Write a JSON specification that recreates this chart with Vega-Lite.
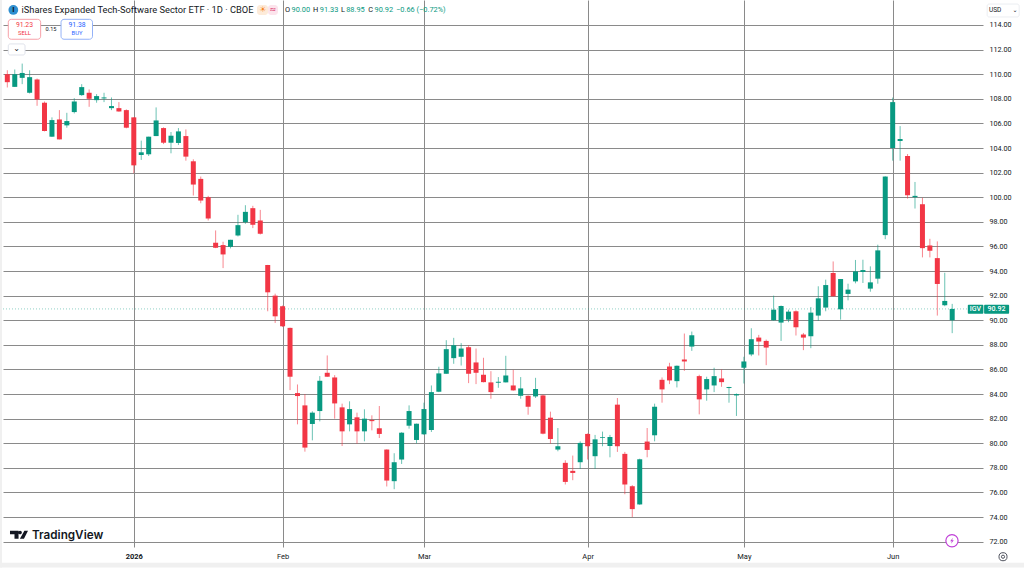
{"$schema":"https://vega.github.io/schema/vega-lite/v6.json","width":980,"height":547,"autosize":{"type":"none"},"padding":{"left":3,"top":0,"right":41,"bottom":21},"background":"#ffffff","config":{"view":{"stroke":null},"font":"Roboto"},
"datasets":{"candles":[
{"bar":0,"date":"2025-12-08","open":110.0,"high":110.32,"low":108.92,"close":109.35,"dir":"down"},
{"bar":1,"date":"2025-12-09","open":108.97,"high":110.38,"low":108.97,"close":110.0,"dir":"up"},
{"bar":2,"date":"2025-12-10","open":109.7,"high":110.86,"low":109.19,"close":110.1,"dir":"up"},
{"bar":3,"date":"2025-12-11","open":108.49,"high":110.32,"low":108.43,"close":109.76,"dir":"up"},
{"bar":4,"date":"2025-12-12","open":109.57,"high":109.65,"low":107.43,"close":107.95,"dir":"down"},
{"bar":5,"date":"2025-12-15","open":107.68,"high":107.78,"low":105.35,"close":105.38,"dir":"down"},
{"bar":6,"date":"2025-12-16","open":104.92,"high":106.49,"low":104.9,"close":106.27,"dir":"up"},
{"bar":7,"date":"2025-12-17","open":106.32,"high":107.08,"low":104.7,"close":104.7,"dir":"down"},
{"bar":8,"date":"2025-12-18","open":105.84,"high":106.86,"low":105.65,"close":106.19,"dir":"up"},
{"bar":9,"date":"2025-12-19","open":106.92,"high":108.05,"low":106.81,"close":107.78,"dir":"up"},
{"bar":10,"date":"2025-12-22","open":108.3,"high":109.19,"low":108.24,"close":108.95,"dir":"up"},
{"bar":11,"date":"2025-12-23","open":108.49,"high":108.76,"low":107.35,"close":108.0,"dir":"down"},
{"bar":12,"date":"2025-12-24","open":107.89,"high":108.38,"low":107.68,"close":108.22,"dir":"up"},
{"bar":13,"date":"2025-12-26","open":108.03,"high":108.49,"low":107.73,"close":108.11,"dir":"up"},
{"bar":14,"date":"2025-12-29","open":107.24,"high":108.11,"low":107.08,"close":107.41,"dir":"up"},
{"bar":15,"date":"2025-12-30","open":107.24,"high":107.73,"low":106.95,"close":106.97,"dir":"down"},
{"bar":16,"date":"2025-12-31","open":107.08,"high":107.14,"low":105.6,"close":105.65,"dir":"down"},
{"bar":17,"date":"2026-01-02","open":106.49,"high":106.49,"low":101.95,"close":102.59,"dir":"down"},
{"bar":18,"date":"2026-01-05","open":103.43,"high":104.6,"low":103.03,"close":103.65,"dir":"up"},
{"bar":19,"date":"2026-01-06","open":103.49,"high":104.92,"low":103.35,"close":104.92,"dir":"up"},
{"bar":20,"date":"2026-01-07","open":104.97,"high":107.3,"low":104.97,"close":106.24,"dir":"up"},
{"bar":21,"date":"2026-01-08","open":105.62,"high":105.68,"low":104.32,"close":104.43,"dir":"down"},
{"bar":22,"date":"2026-01-09","open":104.43,"high":105.3,"low":103.57,"close":105.0,"dir":"up"},
{"bar":23,"date":"2026-01-12","open":104.41,"high":105.62,"low":104.24,"close":105.35,"dir":"up"},
{"bar":24,"date":"2026-01-13","open":104.97,"high":105.51,"low":102.97,"close":103.3,"dir":"down"},
{"bar":25,"date":"2026-01-14","open":102.92,"high":103.08,"low":100.14,"close":101.03,"dir":"down"},
{"bar":26,"date":"2026-01-15","open":101.49,"high":101.68,"low":99.51,"close":99.73,"dir":"down"},
{"bar":27,"date":"2026-01-16","open":100.0,"high":100.11,"low":98.11,"close":98.27,"dir":"down"},
{"bar":28,"date":"2026-01-20","open":96.3,"high":97.3,"low":95.86,"close":95.89,"dir":"down"},
{"bar":29,"date":"2026-01-21","open":96.11,"high":96.38,"low":94.24,"close":95.35,"dir":"down"},
{"bar":30,"date":"2026-01-22","open":95.97,"high":96.54,"low":95.84,"close":96.54,"dir":"up"},
{"bar":31,"date":"2026-01-23","open":96.89,"high":98.57,"low":96.81,"close":97.73,"dir":"up"},
{"bar":32,"date":"2026-01-26","open":97.97,"high":99.35,"low":97.84,"close":98.81,"dir":"up"},
{"bar":33,"date":"2026-01-27","open":99.11,"high":99.3,"low":97.49,"close":97.76,"dir":"down"},
{"bar":34,"date":"2026-01-28","open":98.11,"high":98.97,"low":96.97,"close":97.03,"dir":"down"},
{"bar":35,"date":"2026-01-29","open":94.49,"high":94.5,"low":90.73,"close":92.27,"dir":"down"},
{"bar":36,"date":"2026-01-30","open":92.0,"high":92.16,"low":89.78,"close":90.32,"dir":"down"},
{"bar":37,"date":"2026-02-02","open":91.14,"high":91.2,"low":89.45,"close":89.51,"dir":"down"},
{"bar":38,"date":"2026-02-03","open":89.38,"high":89.4,"low":84.32,"close":85.41,"dir":"down"},
{"bar":39,"date":"2026-02-04","open":84.08,"high":84.78,"low":81.54,"close":83.84,"dir":"down"},
{"bar":40,"date":"2026-02-05","open":83.08,"high":84.0,"low":79.32,"close":79.65,"dir":"down"},
{"bar":41,"date":"2026-02-06","open":81.57,"high":82.6,"low":80.24,"close":82.49,"dir":"up"},
{"bar":42,"date":"2026-02-09","open":82.62,"high":85.46,"low":81.78,"close":85.08,"dir":"up"},
{"bar":43,"date":"2026-02-10","open":85.73,"high":87.14,"low":85.4,"close":85.41,"dir":"down"},
{"bar":44,"date":"2026-02-11","open":85.35,"high":85.54,"low":82.0,"close":83.24,"dir":"down"},
{"bar":45,"date":"2026-02-12","open":82.92,"high":83.22,"low":79.78,"close":80.97,"dir":"down"},
{"bar":46,"date":"2026-02-13","open":81.54,"high":83.41,"low":80.97,"close":82.78,"dir":"up"},
{"bar":47,"date":"2026-02-17","open":82.11,"high":82.49,"low":79.97,"close":80.97,"dir":"down"},
{"bar":48,"date":"2026-02-18","open":80.97,"high":82.76,"low":80.16,"close":82.0,"dir":"up"},
{"bar":49,"date":"2026-02-19","open":81.89,"high":82.27,"low":81.05,"close":81.8,"dir":"down"},
{"bar":50,"date":"2026-02-20","open":81.22,"high":83.03,"low":80.43,"close":80.76,"dir":"down"},
{"bar":51,"date":"2026-02-23","open":79.49,"high":79.5,"low":76.49,"close":76.97,"dir":"down"},
{"bar":52,"date":"2026-02-24","open":76.92,"high":79.19,"low":76.27,"close":78.46,"dir":"up"},
{"bar":53,"date":"2026-02-25","open":78.68,"high":80.9,"low":78.32,"close":80.86,"dir":"up"},
{"bar":54,"date":"2026-02-26","open":81.43,"high":83.08,"low":81.19,"close":82.62,"dir":"up"},
{"bar":55,"date":"2026-02-27","open":80.27,"high":81.6,"low":80.0,"close":81.59,"dir":"up"},
{"bar":56,"date":"2026-03-02","open":80.73,"high":83.3,"low":80.68,"close":82.78,"dir":"up"},
{"bar":57,"date":"2026-03-03","open":81.08,"high":84.7,"low":80.92,"close":84.16,"dir":"up"},
{"bar":58,"date":"2026-03-04","open":84.19,"high":86.22,"low":84.16,"close":85.68,"dir":"up"},
{"bar":59,"date":"2026-03-05","open":85.65,"high":88.38,"low":85.65,"close":87.65,"dir":"up"},
{"bar":60,"date":"2026-03-06","open":86.92,"high":88.57,"low":86.46,"close":87.97,"dir":"up"},
{"bar":61,"date":"2026-03-09","open":87.03,"high":88.14,"low":86.32,"close":87.7,"dir":"up"},
{"bar":62,"date":"2026-03-10","open":87.81,"high":87.97,"low":84.89,"close":85.65,"dir":"down"},
{"bar":63,"date":"2026-03-11","open":86.57,"high":87.7,"low":84.81,"close":85.73,"dir":"down"},
{"bar":64,"date":"2026-03-12","open":85.57,"high":86.95,"low":84.95,"close":84.97,"dir":"down"},
{"bar":65,"date":"2026-03-13","open":84.95,"high":85.86,"low":83.62,"close":84.16,"dir":"down"},
{"bar":66,"date":"2026-03-16","open":84.92,"high":85.38,"low":84.51,"close":85.0,"dir":"up"},
{"bar":67,"date":"2026-03-17","open":84.95,"high":87.11,"low":84.95,"close":85.51,"dir":"up"},
{"bar":68,"date":"2026-03-18","open":84.7,"high":85.97,"low":84.27,"close":84.3,"dir":"down"},
{"bar":69,"date":"2026-03-19","open":83.86,"high":85.38,"low":83.62,"close":84.46,"dir":"up"},
{"bar":70,"date":"2026-03-20","open":83.86,"high":83.89,"low":82.32,"close":82.97,"dir":"down"},
{"bar":71,"date":"2026-03-23","open":83.81,"high":85.32,"low":83.68,"close":84.41,"dir":"up"},
{"bar":72,"date":"2026-03-24","open":83.89,"high":83.95,"low":80.73,"close":80.78,"dir":"down"},
{"bar":73,"date":"2026-03-25","open":82.08,"high":82.57,"low":79.97,"close":80.35,"dir":"down"},
{"bar":74,"date":"2026-03-26","open":79.49,"high":81.24,"low":79.35,"close":79.76,"dir":"up"},
{"bar":75,"date":"2026-03-27","open":78.41,"high":78.62,"low":76.65,"close":76.86,"dir":"down"},
{"bar":76,"date":"2026-03-30","open":77.76,"high":79.0,"low":77.0,"close":77.59,"dir":"down"},
{"bar":77,"date":"2026-03-31","open":78.46,"high":80.16,"low":77.92,"close":80.03,"dir":"up"},
{"bar":78,"date":"2026-04-01","open":80.76,"high":80.8,"low":78.68,"close":79.76,"dir":"down"},
{"bar":79,"date":"2026-04-02","open":78.95,"high":80.68,"low":77.92,"close":80.32,"dir":"up"},
{"bar":80,"date":"2026-04-06","open":80.43,"high":80.95,"low":79.76,"close":80.49,"dir":"up"},
{"bar":81,"date":"2026-04-07","open":79.78,"high":80.68,"low":78.86,"close":80.51,"dir":"up"},
{"bar":82,"date":"2026-04-08","open":83.14,"high":83.68,"low":79.3,"close":79.76,"dir":"down"},
{"bar":83,"date":"2026-04-09","open":79.14,"high":79.3,"low":75.86,"close":76.65,"dir":"down"},
{"bar":84,"date":"2026-04-10","open":76.51,"high":76.6,"low":74.0,"close":74.65,"dir":"down"},
{"bar":85,"date":"2026-04-13","open":75.03,"high":78.75,"low":75.0,"close":78.7,"dir":"up"},
{"bar":86,"date":"2026-04-14","open":80.14,"high":81.24,"low":78.86,"close":79.46,"dir":"down"},
{"bar":87,"date":"2026-04-15","open":80.65,"high":83.22,"low":80.16,"close":82.97,"dir":"up"},
{"bar":88,"date":"2026-04-16","open":85.16,"high":85.35,"low":83.3,"close":84.38,"dir":"down"},
{"bar":89,"date":"2026-04-17","open":86.24,"high":86.54,"low":84.81,"close":85.11,"dir":"down"},
{"bar":90,"date":"2026-04-20","open":85.05,"high":86.32,"low":84.54,"close":86.3,"dir":"up"},
{"bar":91,"date":"2026-04-21","open":86.81,"high":88.92,"low":85.89,"close":86.65,"dir":"down"},
{"bar":92,"date":"2026-04-22","open":87.86,"high":89.08,"low":87.51,"close":88.78,"dir":"up"},
{"bar":93,"date":"2026-04-23","open":85.46,"high":85.57,"low":82.35,"close":83.57,"dir":"down"},
{"bar":94,"date":"2026-04-24","open":84.38,"high":85.41,"low":83.46,"close":85.22,"dir":"up"},
{"bar":95,"date":"2026-04-27","open":84.7,"high":86.14,"low":84.16,"close":85.46,"dir":"up"},
{"bar":96,"date":"2026-04-28","open":85.27,"high":86.0,"low":84.59,"close":84.97,"dir":"down"},
{"bar":97,"date":"2026-04-29","open":84.49,"high":84.59,"low":83.3,"close":84.57,"dir":"up"},
{"bar":98,"date":"2026-04-30","open":83.89,"high":84.05,"low":82.22,"close":84.0,"dir":"up"},
{"bar":99,"date":"2026-05-01","open":86.14,"high":87.03,"low":84.86,"close":86.65,"dir":"up"},
{"bar":100,"date":"2026-05-04","open":87.22,"high":89.35,"low":87.08,"close":88.46,"dir":"up"},
{"bar":101,"date":"2026-05-05","open":88.59,"high":88.81,"low":87.14,"close":88.27,"dir":"down"},
{"bar":102,"date":"2026-05-06","open":88.32,"high":88.43,"low":86.35,"close":87.78,"dir":"down"},
{"bar":103,"date":"2026-05-07","open":90.0,"high":92.0,"low":89.97,"close":90.86,"dir":"up"},
{"bar":104,"date":"2026-05-08","open":89.81,"high":91.2,"low":88.32,"close":91.16,"dir":"up"},
{"bar":105,"date":"2026-05-11","open":90.05,"high":90.86,"low":89.84,"close":90.7,"dir":"up"},
{"bar":106,"date":"2026-05-12","open":90.73,"high":90.81,"low":88.76,"close":89.43,"dir":"down"},
{"bar":107,"date":"2026-05-13","open":88.84,"high":88.97,"low":87.57,"close":88.59,"dir":"down"},
{"bar":108,"date":"2026-05-14","open":88.7,"high":91.08,"low":87.73,"close":90.62,"dir":"up"},
{"bar":109,"date":"2026-05-15","open":90.38,"high":92.76,"low":89.95,"close":91.78,"dir":"up"},
{"bar":110,"date":"2026-05-18","open":91.03,"high":93.3,"low":90.73,"close":92.86,"dir":"up"},
{"bar":111,"date":"2026-05-19","open":93.84,"high":94.78,"low":91.95,"close":91.95,"dir":"down"},
{"bar":112,"date":"2026-05-20","open":90.89,"high":93.35,"low":90.05,"close":93.35,"dir":"up"},
{"bar":113,"date":"2026-05-21","open":92.14,"high":92.97,"low":91.62,"close":92.49,"dir":"up"},
{"bar":114,"date":"2026-05-22","open":93.16,"high":94.9,"low":93.0,"close":93.97,"dir":"up"},
{"bar":115,"date":"2026-05-26","open":93.92,"high":94.92,"low":93.03,"close":94.08,"dir":"up"},
{"bar":116,"date":"2026-05-27","open":92.57,"high":94.38,"low":92.32,"close":93.08,"dir":"up"},
{"bar":117,"date":"2026-05-28","open":93.38,"high":96.14,"low":92.97,"close":95.68,"dir":"up"},
{"bar":118,"date":"2026-05-29","open":96.92,"high":101.7,"low":96.59,"close":101.68,"dir":"up"},
{"bar":119,"date":"2026-06-01","open":104.0,"high":108.1,"low":102.97,"close":107.73,"dir":"up"},
{"bar":120,"date":"2026-06-02","open":104.57,"high":105.78,"low":102.97,"close":104.73,"dir":"up"},
{"bar":121,"date":"2026-06-03","open":103.35,"high":103.51,"low":99.89,"close":100.16,"dir":"down"},
{"bar":122,"date":"2026-06-04","open":100.0,"high":101.24,"low":99.08,"close":100.11,"dir":"up"},
{"bar":123,"date":"2026-06-05","open":99.43,"high":99.95,"low":95.11,"close":95.86,"dir":"down"},
{"bar":124,"date":"2026-06-08","open":96.08,"high":96.62,"low":95.11,"close":95.65,"dir":"down"},
{"bar":125,"date":"2026-06-09","open":95.05,"high":96.41,"low":90.38,"close":92.95,"dir":"down"},
{"bar":126,"date":"2026-06-10","open":91.22,"high":93.86,"low":91.14,"close":91.57,"dir":"up"},
{"bar":127,"date":"2026-06-11","open":90.0,"high":91.33,"low":88.95,"close":90.92,"dir":"up"}
]},
"encoding":{
"x":{"field":"bar","type":"quantitative","title":null,"scale":{"domain":[-0.58,131.14],"nice":false,"zero":false,"padding":0},"axis":{"values":[17,37,56,78,99,119],"labelExpr":"{17:'2026',37:'Feb',56:'Mar',78:'Apr',99:'May',119:'Jun'}[datum.value]","grid":true,"gridColor":"#8a8a8a","gridWidth":1,"ticks":false,"domain":false,"labelFontSize":7.5,"labelColor":"#131722","labelPadding":5,"labelOverlap":false,"labelFlush":false,"labelFontWeight":{"condition":{"test":"datum.value==17","value":"bold"},"value":"normal"}}},
"y":{"field":"price","type":"quantitative","title":null,"scale":{"domain":[71.57,116.03],"nice":false,"zero":false,"padding":0},"axis":{"orient":"right","values":[72,74,76,78,80,82,84,86,88,90,92,94,96,98,100,102,104,106,108,110,112,114],"format":".2f","grid":true,"gridColor":"#8a8a8a","gridWidth":1,"ticks":false,"domain":false,"labelFontSize":7.2,"labelColor":"#131722","labelPadding":6,"labelOverlap":false,"labelFlush":false}}
},
"layer":[
{"data":{"values":[{"bar":-0.98,"bar2":-0.71,"price":116.03,"price2":69.9},{"bar":-0.98,"bar2":136.7,"price":70.28,"price2":69.9}]},"mark":{"type":"rect","fill":"#f0f0f0"},"encoding":{"x2":{"field":"bar2"},"y2":{"field":"price2"}}},
{"data":{"values":[{"bar":-0.58,"bar2":129.1,"price":90.92}]},"mark":{"type":"rule","stroke":"#089981","strokeWidth":1,"strokeDash":[1,2],"opacity":0.45},"encoding":{"x2":{"field":"bar2"}}},
{"data":{"name":"candles"},"mark":{"type":"rule","strokeWidth":1,"opacity":0.6},"encoding":{"y":{"field":"high","type":"quantitative","title":null,"scale":{"domain":[71.57,116.03],"nice":false,"zero":false,"padding":0},"axis":{"orient":"right","values":[72,74,76,78,80,82,84,86,88,90,92,94,96,98,100,102,104,106,108,110,112,114],"format":".2f","grid":true,"gridColor":"#8a8a8a","gridWidth":1,"ticks":false,"domain":false,"labelFontSize":7.2,"labelColor":"#131722","labelPadding":6,"labelOverlap":false,"labelFlush":false}},"y2":{"field":"low"},"color":{"field":"dir","type":"nominal","legend":null,"scale":{"domain":["up","down"],"range":["#089981","#F23645"]}}}},
{"data":{"name":"candles"},"mark":{"type":"bar","size":5},"encoding":{"y":{"field":"open","type":"quantitative","title":null,"scale":{"domain":[71.57,116.03],"nice":false,"zero":false,"padding":0},"axis":{"orient":"right","values":[72,74,76,78,80,82,84,86,88,90,92,94,96,98,100,102,104,106,108,110,112,114],"format":".2f","grid":true,"gridColor":"#8a8a8a","gridWidth":1,"ticks":false,"domain":false,"labelFontSize":7.2,"labelColor":"#131722","labelPadding":6,"labelOverlap":false,"labelFlush":false}},"y2":{"field":"close"},"color":{"field":"dir","type":"nominal","legend":null,"scale":{"domain":["up","down"],"range":["#089981","#F23645"]}}}},
{"data":{"values":[{"bar":129.1,"bar2":131.19,"price":91.25,"price2":90.52},{"bar":131.29,"bar2":134.65,"price":91.25,"price2":90.52}]},"mark":{"type":"rect","fill":"#089981","cornerRadius":1},"encoding":{"x2":{"field":"bar2"},"y2":{"field":"price2"}}},
{"data":{"values":[{"bar":130.13,"price":90.89,"label":"IGV"},{"bar":132.96,"price":90.89,"label":"90.92"}]},"mark":{"type":"text","color":"#ffffff","fontSize":7,"fontWeight":500,"align":"center","baseline":"middle"},"encoding":{"text":{"field":"label"}}},
{"data":{"values":[{"bar":0.13,"bar2":4.48,"price":114.46,"price2":112.84}]},"mark":{"type":"rect","fill":"#ffffff","stroke":"#F7a0a8","strokeWidth":1,"cornerRadius":3},"encoding":{"x2":{"field":"bar2"},"y2":{"field":"price2"}}},
{"data":{"values":[{"bar":7.22,"bar2":11.45,"price":114.46,"price2":112.84}]},"mark":{"type":"rect","fill":"#ffffff","stroke":"#94b2f8","strokeWidth":1,"cornerRadius":3},"encoding":{"x2":{"field":"bar2"},"y2":{"field":"price2"}}},
{"data":{"values":[{"bar":0.13,"bar2":2.38,"price":112.46,"price2":111.56}]},"mark":{"type":"rect","fill":"#ffffff","stroke":"#e0e3eb","strokeWidth":1,"cornerRadius":2},"encoding":{"x2":{"field":"bar2"},"y2":{"field":"price2"}}},
{"data":{"values":[{"bar":1.26,"price":112.05,"label":"⌄"}]},"mark":{"type":"text","font":"DejaVu Sans","color":"#131722","fontSize":8,"align":"center","baseline":"middle"},"encoding":{"text":{"field":"label"}}},
{"data":{"values":[{"bar":2.3,"price":114.02,"label":"91.23"}]},"mark":{"type":"text","color":"#F23645","fontSize":6.8,"align":"center","baseline":"middle"},"encoding":{"text":{"field":"label"}}},
{"data":{"values":[{"bar":2.3,"price":113.33,"label":"SELL"}]},"mark":{"type":"text","color":"#F23645","fontSize":5.8,"align":"center","baseline":"middle"},"encoding":{"text":{"field":"label"}}},
{"data":{"values":[{"bar":9.37,"price":114.02,"label":"91.38"}]},"mark":{"type":"text","color":"#2962FF","fontSize":6.8,"align":"center","baseline":"middle"},"encoding":{"text":{"field":"label"}}},
{"data":{"values":[{"bar":9.37,"price":113.33,"label":"BUY"}]},"mark":{"type":"text","color":"#2962FF","fontSize":5.8,"align":"center","baseline":"middle"},"encoding":{"text":{"field":"label"}}},
{"data":{"values":[{"bar":5.87,"price":113.68,"label":"0.15"}]},"mark":{"type":"text","color":"#131722","fontSize":5.6,"align":"center","baseline":"middle"},"encoding":{"text":{"field":"label"}}},
{"data":{"values":[{"bar":0.81,"price":115.22}]},"mark":{"type":"point","shape":"circle","filled":true,"fill":"#2f8fd0","opacity":1,"size":95}},
{"data":{"values":[{"bar":0.81,"price":115.22,"label":"I"}]},"mark":{"type":"text","color":"#131722","fontSize":8,"fontWeight":"bold","align":"center","baseline":"middle"},"encoding":{"text":{"field":"label"}}},
{"data":{"values":[{"bar":1.91,"price":115.22,"label":"iShares Expanded Tech-Software Sector ETF · 1D · CBOE"}]},"mark":{"type":"text","color":"#131722","fontSize":9.3,"align":"left","baseline":"middle"},"encoding":{"text":{"field":"label"}}},
{"data":{"values":[{"bar":33.56,"bar2":35.04,"price":115.62,"price2":114.81}]},"mark":{"type":"rect","fill":"#fdebd9","cornerRadius":3},"encoding":{"x2":{"field":"bar2"},"y2":{"field":"price2"}}},
{"data":{"values":[{"bar":35.04,"bar2":36.38,"price":115.62,"price2":114.81}]},"mark":{"type":"rect","fill":"#fce4ec","cornerRadius":3},"encoding":{"x2":{"field":"bar2"},"y2":{"field":"price2"}}},
{"data":{"values":[{"bar":34.35,"price":115.22,"label":"☀"}]},"mark":{"type":"text","font":"DejaVu Sans","color":"#f7841e","fontSize":8,"align":"center","baseline":"middle"},"encoding":{"text":{"field":"label"}}},
{"data":{"values":[{"bar":35.7,"price":115.22,"label":"≈"}]},"mark":{"type":"text","font":"DejaVu Sans","color":"#d81b60","fontSize":8,"align":"center","baseline":"middle"},"encoding":{"text":{"field":"label"}}},
{"data":{"values":[{"bar":37.33,"price":115.22,"label":"O"},{"bar":41.1,"price":115.22,"label":"H"},{"bar":44.85,"price":115.22,"label":"L"},{"bar":48.5,"price":115.22,"label":"C"}]},"mark":{"type":"text","color":"#131722","fontSize":7.4,"align":"left","baseline":"middle"},"encoding":{"text":{"field":"label"}}},
{"data":{"values":[{"bar":38.2,"price":115.22,"label":"90.00"},{"bar":42.0,"price":115.22,"label":"91.33"},{"bar":45.55,"price":115.22,"label":"88.95"},{"bar":49.35,"price":115.22,"label":"90.92"},{"bar":52.25,"price":115.22,"label":"−0.66 (−0.72%)"}]},"mark":{"type":"text","color":"#089981","fontSize":7.4,"align":"left","baseline":"middle"},"encoding":{"text":{"field":"label"}}},
{"data":{"values":[{"bar":131.7,"bar2":136.0,"price":115.7,"price2":114.65}]},"mark":{"type":"rect","fill":"#ffffff","stroke":"#eceef2","strokeWidth":1,"cornerRadius":2},"encoding":{"x2":{"field":"bar2"},"y2":{"field":"price2"}}},
{"data":{"values":[{"bar":131.95,"price":115.18,"label":"USD"}]},"mark":{"type":"text","color":"#131722","fontSize":6.5,"align":"left","baseline":"middle"},"encoding":{"text":{"field":"label"}}},
{"data":{"values":[{"bar":135.44,"price":115.2,"label":"⌄"}]},"mark":{"type":"text","font":"DejaVu Sans","color":"#131722","fontSize":6,"align":"center","baseline":"middle"},"encoding":{"text":{"field":"label"}}},
{"data":{"values":[{"bar":1.57,"price":72.57}]},"mark":{"type":"point","filled":true,"fill":"#131722","opacity":1,"size":324,"shape":"M-1 -0.45H-0.05V0.45H-0.5V-0.05H-1ZM0.12 -0.45A0.2 0.2 0 1 1 0.119 -0.45ZM0.6 -0.45H1L0.55 0.45H0.1Z"}},
{"data":{"values":[{"bar":3.32,"price":72.53,"label":"TradingView"}]},"mark":{"type":"text","font":"Inter","color":"#131722","fontSize":11.7,"fontWeight":600,"align":"left","baseline":"middle"},"encoding":{"text":{"field":"label"}}},
{"data":{"values":[{"bar":126.97,"price":72.08}]},"mark":{"type":"point","shape":"circle","filled":true,"fill":"#ffffff","stroke":"#c040d8","strokeWidth":1.2,"opacity":1,"size":150}},
{"data":{"values":[{"bar":126.97,"price":72.08}]},"mark":{"type":"point","filled":true,"fill":"#c040d8","opacity":1,"size":36,"shape":"M0.3 -1L-0.6 0.2H-0.05L-0.3 1L0.6 -0.2H0.05Z"}},
{"data":{"values":[{"bar":133.83,"price":70.78}]},"mark":{"type":"point","shape":"circle","filled":false,"stroke":"#50535e","strokeWidth":1,"opacity":1,"size":65}},
{"data":{"values":[{"bar":133.83,"price":70.78}]},"mark":{"type":"point","shape":"circle","filled":false,"stroke":"#50535e","strokeWidth":1,"opacity":1,"size":10}}
]}
